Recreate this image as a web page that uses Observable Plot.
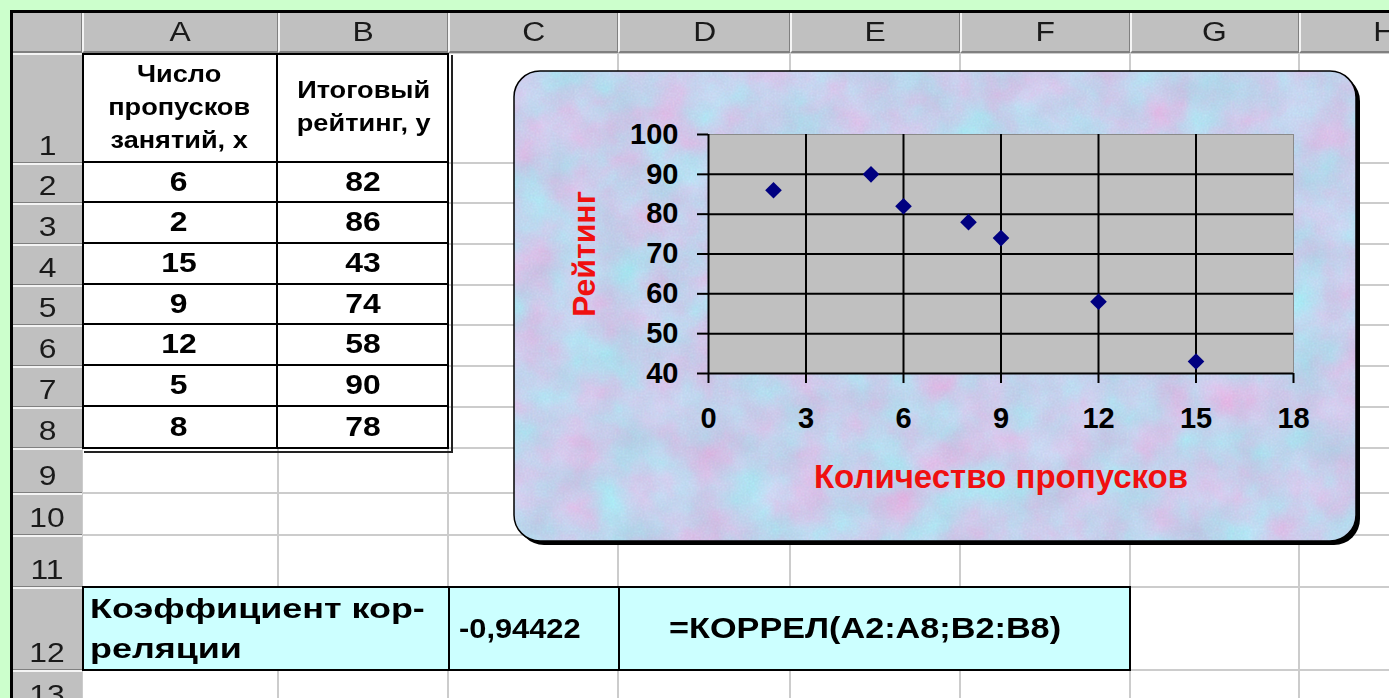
<!DOCTYPE html>
<html>
<head>
<meta charset="utf-8">
<script src="https://cdn.jsdelivr.net/npm/d3@7"></script>
<script src="https://cdn.jsdelivr.net/npm/@observablehq/plot@0.6"></script>
<style>
  html, body { margin: 0; padding: 0; }
  body { width: 1389px; height: 698px; overflow: hidden; background: #ccffcc; font-family: "Liberation Sans", Arial, sans-serif; }
  #page { position: absolute; left: 0; top: 0; width: 1389px; height: 698px; overflow: hidden; }
  .abs { position: absolute; box-sizing: border-box; }
  .cell { display: flex; align-items: center; justify-content: center; }
  .sx { display: inline-block; transform: scaleX(1.18); white-space: nowrap; }
  .sxl { display: inline-block; transform: scaleX(1.28); transform-origin: left center; white-space: nowrap; }
  .hdr { font-size: 27px; color: #1a1a1a; font-weight: normal; }
  .val { font-size: 27px; font-weight: bold; color: #000; }
  .head { font-size: 23px; font-weight: bold; line-height: 33px; text-align: center; color: #000; }
  #chart { position: absolute; left: 507px; top: 61px; }
  #chart svg { position: absolute; left: 0; top: 0; }
</style>
</head>
<body>
<div id="page"></div>
<script>
// ---------------- data ----------------
const columnLetters = ["A", "B", "C", "D", "E", "F", "G", "H"];
const rowNumbers = ["1", "2", "3", "4", "5", "6", "7", "8", "9", "10", "11", "12", "13"];
const headerX = ["Число", "пропусков", "занятий, х"];
const headerY = ["Итоговый", "рейтинг, у"];
const absences = [6, 2, 15, 9, 12, 5, 8];
const ratings = [82, 86, 43, 74, 58, 90, 78];
const corrLabel = ["Коэффициент кор-", "реляции"];
const corrValue = "-0,94422";
const corrFormula = "=КОРРЕЛ(A2:A8;B2:B8)";
const xTicks = [0, 3, 6, 9, 12, 15, 18];
const yTicks = [40, 50, 60, 70, 80, 90, 100];
const xTitle = "Количество пропусков";
const yTitle = "Рейтинг";

// ---------------- sheet layout (pixels) ----------------
const colEdges = [82, 278, 448, 618, 790, 960, 1130, 1299, 1470];
const rowEdges = [53, 163, 203, 244, 285, 325, 366, 407, 448, 493, 535, 587, 670, 712];
const sheetLeft = 13, sheetTop = 13, headTop = 13;

const page = document.getElementById("page");
function box(x0, y0, x1, y1, style, cls) {
  const d = document.createElement("div");
  d.className = "abs" + (cls ? " " + cls : "");
  Object.assign(d.style, { left: x0 + "px", top: y0 + "px", width: (x1 - x0) + "px", height: (y1 - y0) + "px" }, style || {});
  page.appendChild(d);
  return d;
}

// sheet frame
box(10, 10, 1389, 698, { background: "#000" });
box(sheetLeft, sheetTop, 1389, 698, { background: "#fff" });

// gridlines
for (let i = 0; i < colEdges.length; i++) box(colEdges[i] - 1, 53, colEdges[i] + 1, 698, { background: "#cccccc" });
for (let i = 0; i < rowEdges.length; i++) box(82, rowEdges[i] - 1, 1389, rowEdges[i] + 1, { background: "#cccccc" });

// column header row
box(sheetLeft, headTop, 1389, 53, { background: "#c0c0c0", borderBottom: "2px solid #808080" });
box(sheetLeft, headTop, 82, 53, { background: "#c0c0c0", borderRight: "1px solid #808080", borderBottom: "2px solid #808080" });
columnLetters.forEach((c, i) => {
  const d = box(colEdges[i], headTop, colEdges[i + 1], 53,
    { background: "#c0c0c0", borderLeft: "2px solid #f4f4f4", borderRight: "1px solid #808080", borderBottom: "2px solid #808080" }, "cell hdr");
  d.innerHTML = `<span class="sx">${c}</span>`;
});

// row headers
rowNumbers.forEach((r, i) => {
  const d = box(sheetLeft, rowEdges[i], 82, rowEdges[i + 1],
    { background: "#c0c0c0", borderTop: "2px solid #f4f4f4", borderBottom: "1px solid #808080", alignItems: "flex-end", paddingBottom: "1px" }, "cell hdr");
  d.innerHTML = `<span class="sx" style="line-height:30px">${r}</span>`;
});

// data table A1:B8 (with shadow line)
box(84, 55, 453, 453, { border: "2px solid #222", borderTop: "none", borderLeft: "none" });
box(82, 53, 449, 449, { background: "#fff", border: "2px solid #000" });
{
  const d = box(82, 53, 278, 163, { borderRight: "2px solid #000", borderBottom: "2px solid #000" }, "cell head");
  d.innerHTML = `<span class="sx">${headerX.join("<br>")}</span>`;
  const e = box(278, 53, 449, 163, { borderBottom: "2px solid #000" }, "cell head");
  e.innerHTML = `<span class="sx">${headerY.join("<br>")}</span>`;
}
absences.forEach((v, i) => {
  const y0 = rowEdges[i + 1], y1 = rowEdges[i + 2];
  const last = i === absences.length - 1;
  const a = box(82, y0, 278, y1, { borderRight: "2px solid #000", borderBottom: last ? "none" : "2px solid #000" }, "cell val");
  a.innerHTML = `<span class="sx">${v}</span>`;
  const b = box(278, y0, 449, y1, { borderBottom: last ? "none" : "2px solid #000" }, "cell val");
  b.innerHTML = `<span class="sx">${ratings[i]}</span>`;
});

// row 12: correlation
{
  const y0 = rowEdges[11] - 1, y1 = rowEdges[12] + 1;
  const a = box(82, y0, 450, y1, { background: "#ccffff", border: "2px solid #000", justifyContent: "flex-start", paddingLeft: "6px" }, "cell val");
  a.style.fontSize = "27px";
  a.innerHTML = `<span class="sxl" style="line-height:40px;transform:scaleX(1.33)">${corrLabel.join("<br>")}</span>`;
  const c = box(448, y0, 620, y1, { background: "#ccffff", border: "2px solid #000", justifyContent: "flex-start", paddingLeft: "9px" }, "cell val");
  c.style.fontSize = "28px";
  c.innerHTML = `<span class="sxl" style="transform:scaleX(1.1)">${corrValue}</span>`;
  const f = box(618, y0, 1131, y1, { background: "#ccffff", border: "2px solid #000" }, "cell val");
  f.style.fontSize = "29px";
  f.innerHTML = `<span class="sx" style="transform:scaleX(1.18);margin-right:18px">${corrFormula}</span>`;
}

// ---------------- chart ----------------
const W = 860, H = 490;
const cLeft = 507, cTop = 61;
const chartDiv = document.createElement("div");
chartDiv.id = "chart";
chartDiv.style.width = W + "px";
chartDiv.style.height = H + "px";
page.appendChild(chartDiv);

// textured rounded background frame
chartDiv.innerHTML = `
<svg width="${W}" height="${H}" xmlns="http://www.w3.org/2000/svg">
  <defs>
    <filter id="tex" x="0" y="0" width="100%" height="100%" color-interpolation-filters="sRGB">
      <feTurbulence type="fractalNoise" baseFrequency="0.022" numOctaves="4" seed="11" result="n"/>
      <feColorMatrix in="n" type="matrix" values="0.26 -0.10 0 0 0.71  -0.12 0.20 0 0 0.79  0 0.10 0 0 0.89  0 0 0 0 1" result="c"/>
      <feTurbulence type="fractalNoise" baseFrequency="0.5" numOctaves="2" seed="3" result="g"/>
      <feComposite in="c" in2="g" operator="arithmetic" k1="0" k2="1" k3="0.09" k4="-0.04" result="m"/>
      <feComposite in="m" in2="SourceGraphic" operator="in"/>
    </filter>
  </defs>
  <rect x="${518 - cLeft}" y="${75 - cTop}" width="${842}" height="${470}" rx="26" ry="26" fill="#000"/>
  <rect x="${514 - cLeft}" y="${71 - cTop}" width="${842}" height="${470}" rx="26" ry="26" fill="#c8d0f0" filter="url(#tex)"/>
  <rect x="${514 - cLeft}" y="${71 - cTop}" width="${842}" height="${470}" rx="26" ry="26" fill="none" stroke="#000" stroke-width="1.5"/>
</svg>`;

const data = absences.map((x, i) => ({ x, y: ratings[i] }));
const innerGridY = yTicks.filter(d => d > 40 && d < 100);
const innerGridX = xTicks.filter(d => d > 0 && d < 18);

const plot = Plot.plot({
  width: W,
  height: H,
  marginLeft: 708 - cLeft,
  marginRight: cLeft + W - 1293,
  marginTop: 134 - cTop,
  marginBottom: cTop + H - 373,
  style: { background: "transparent", fontFamily: "'Liberation Sans', Arial, sans-serif", fontWeight: "bold", fontSize: "29px", color: "#000", overflow: "visible" },
  x: { domain: [0, 18], label: null },
  y: { domain: [40, 100], label: null },
  marks: [
    Plot.frame({ fill: "#c0c0c0", stroke: "#8a8a8a", strokeWidth: 1 }),
    Plot.ruleY(innerGridY, { stroke: "#000", strokeWidth: 2 }),
    Plot.ruleX(innerGridX, { stroke: "#000", strokeWidth: 2 }),
    Plot.ruleX([0], { stroke: "#000", strokeWidth: 2 }),
    Plot.ruleY([40], { stroke: "#000", strokeWidth: 2 }),
    Plot.axisY({ ticks: yTicks, tickSize: 11, tickPadding: 19, strokeWidth: 2, stroke: "#000", label: null, fontSize: 29, fontWeight: "bold" }),
    Plot.axisX({ ticks: xTicks, tickSize: 10, tickPadding: 24, strokeWidth: 2, stroke: "#000", label: null, fontSize: 29, fontWeight: "bold" }),
    Plot.axisY({ ticks: [], tickSize: 0, label: yTitle, labelArrow: "none", labelAnchor: "center", labelOffset: 136, fontSize: 32, fontWeight: "bold", fill: "#f01010" }),
    Plot.axisX({ ticks: [], tickSize: 0, label: xTitle, labelArrow: "none", labelAnchor: "center", labelOffset: 114, fontSize: 33, fontWeight: "bold", fill: "#f01010" }),
    Plot.dot(data, { x: "x", y: "y", symbol: "diamond2", r: 7.5, fill: "#000080", stroke: "none" })
  ]
});
chartDiv.appendChild(plot);
// make sure the axis titles are red and carry no arrow
plot.querySelectorAll("text").forEach(t => {
  const s = t.textContent.replace(/\s*[↑↓←→]\s*/g, "");
  if (s === yTitle || s === xTitle) {
    t.textContent = s;
    t.setAttribute("fill", "#f01010");
    t.style.fill = "#f01010";
  }
});
</script>
</body>
</html>
